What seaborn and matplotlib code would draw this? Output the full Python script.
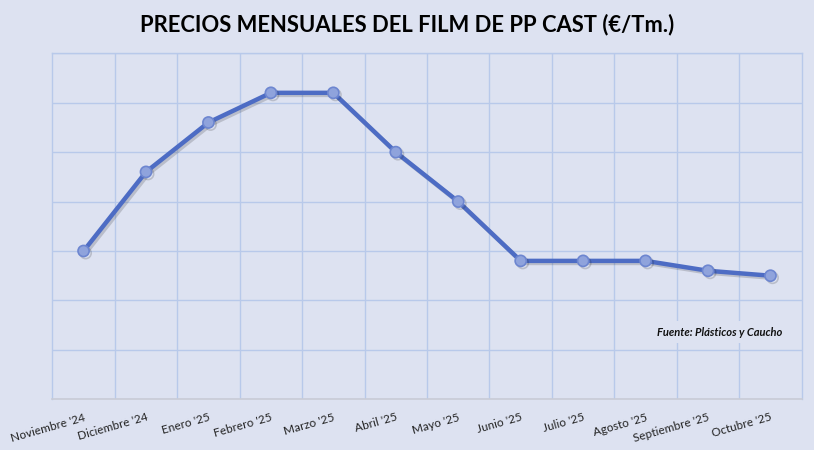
import matplotlib
matplotlib.use("Agg")
import matplotlib.pyplot as plt
import matplotlib.patheffects as pe
from matplotlib.ticker import MultipleLocator, NullFormatter
import seaborn as sns

# Datos (€/Tm.)
meses = ["Noviembre '24", "Diciembre '24", "Enero '25", "Febrero '25", "Marzo '25",
         "Abril '25", "Mayo '25", "Junio '25", "Julio '25", "Agosto '25",
         "Septiembre '25", "Octubre '25"]
precios = [1450, 1530, 1580, 1610, 1610, 1550, 1500, 1440, 1440, 1440, 1430, 1425]
posiciones = list(range(len(meses)))

bg = "#dde2f1"
grid_col = "#b8c9ea"
line_col = "#4d6cc4"

sns.set_theme(style="white")
plt.rcParams['font.family'] = ['Lato', 'DejaVu Sans']

fig = plt.figure(figsize=(8.14, 4.5), dpi=100, facecolor=bg)
ax = fig.add_axes([0.0643, 0.1127, 0.9206, 0.7689])
ax.set_facecolor(bg)

sns.lineplot(x=posiciones, y=precios, ax=ax, sort=False, color=line_col,
             linewidth=3.2, marker="o", markersize=8,
             markerfacecolor="#8fa3dc", markeredgecolor="#6d86d0", markeredgewidth=1.2)
for ln in ax.lines:
    ln.set_path_effects([pe.SimpleLineShadow(offset=(1.5, -1.5), shadow_color="k", alpha=0.18),
                         pe.Normal()])

ax.set_xlim(-0.5, len(meses) - 0.5)
ax.set_ylim(1300, 1650)
ax.yaxis.set_major_locator(MultipleLocator(50))
ax.yaxis.set_major_formatter(NullFormatter())
ax.tick_params(axis="y", length=0)

ax.set_xticks(posiciones)
ax.set_xticks([p + 0.5 for p in posiciones[:-1]], minor=True)
ax.set_xticklabels(meses, rotation=16, ha="right", rotation_mode="anchor",
                   fontsize=8.5, color="#222222")
ax.tick_params(axis="x", which="both", length=0, pad=9)

ax.grid(False)
ax.yaxis.grid(True, color=grid_col, linewidth=1)
ax.xaxis.grid(True, which="minor", color=grid_col, linewidth=1)
ax.set_axisbelow(True)
for side in ["left", "top", "right"]:
    ax.spines[side].set_color(grid_col)
    ax.spines[side].set_linewidth(1)
ax.spines["bottom"].set_color("#c9ccd6")
ax.spines["bottom"].set_linewidth(1.2)
ax.set_xlabel("")
ax.set_ylabel("")

fig.text(0.5, 1 - 25 / 450, "PRECIOS MENSUALES DEL FILM DE PP CAST (€/Tm.)",
         ha="center", va="center", fontsize=15.8, fontweight="bold", color="black")

fig.text(782 / 814, 1 - 332 / 450, "Fuente: Plásticos y Caucho",
         ha="right", va="center", fontsize=8, fontweight="bold", fontstyle="italic",
         color="#111111",
         bbox=dict(facecolor=bg, edgecolor="none", pad=4))

fig.savefig("out.png", dpi=100, facecolor=bg)
